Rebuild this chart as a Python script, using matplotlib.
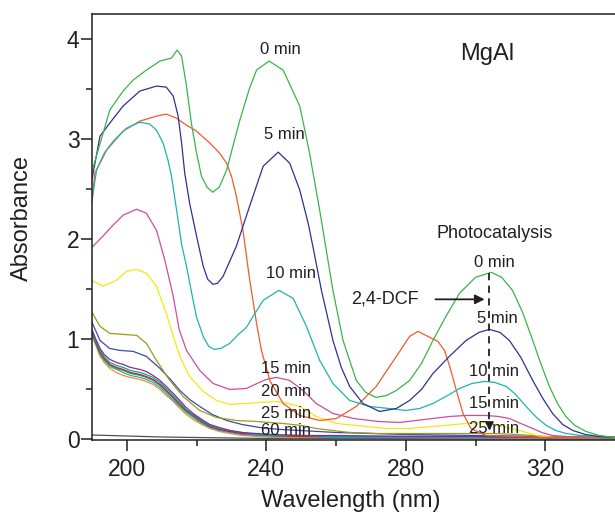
import matplotlib
matplotlib.use("Agg")
import matplotlib.pyplot as plt

plt.rcParams['font.family'] = ['Liberation Sans', 'DejaVu Sans']

# spectra: wavelength (nm) / absorbance
wl_0 = [190, 192.6, 195.1, 198.9, 201.8, 205.6, 209.5, 212.8, 214.4, 215.7, 217.1, 218.5, 220, 221.4, 223,
        224.6, 226.5, 228.6, 232.4, 235.2, 237.2, 240.8, 244.8, 249.6, 252.4, 255.3, 257.2, 259.1, 262, 265.8,
        268.5, 271.5, 274.5, 277.3, 281.1, 284.5, 287.8, 291.5, 295.4, 300, 304.5, 307.5, 310.6, 313.5, 316.4,
        318.8, 321.2, 323.5, 325.9, 328.5, 331.7, 335.5, 340]
abs_0 = [2.68, 2.99, 3.29, 3.48, 3.59, 3.69, 3.78, 3.81, 3.89, 3.83, 3.53, 3.16, 2.86, 2.63, 2.52,
         2.47, 2.52, 2.69, 3.19, 3.51, 3.69, 3.78, 3.69, 3.33, 2.86, 2.29, 1.89, 1.49, 0.99, 0.59,
         0.47, 0.42, 0.44, 0.49, 0.59, 0.76, 0.99, 1.23, 1.46, 1.62, 1.67, 1.62, 1.49, 1.27, 0.99,
         0.75, 0.53, 0.36, 0.23, 0.14, 0.08, 0.04, 0.02]

wl_5 = [190, 192.3, 195.1, 198.9, 203.7, 208.5, 211.3, 213.3, 214.7, 215.7, 216.6, 218, 220, 221.9, 223.2,
        224.7, 226, 227.6, 231.4, 235.2, 239.1, 243.4, 246.7, 249.6, 252, 253.4, 255.8, 259.1, 261.5, 263.9,
        267.7, 272.5, 277.3, 281.1, 284.5, 287.8, 292.5, 297.3, 301, 304, 307, 309.7, 313, 316.4, 319.3,
        322.1, 325, 327.9, 331.5, 335.5, 340]
abs_5 = [2.6, 3.03, 3.16, 3.33, 3.48, 3.53, 3.52, 3.43, 3.23, 2.96, 2.66, 2.36, 2.03, 1.73, 1.60,
         1.55, 1.56, 1.63, 1.93, 2.33, 2.73, 2.87, 2.76, 2.49, 2.16, 1.92, 1.49, 0.99, 0.72, 0.53,
         0.36, 0.28, 0.31, 0.39, 0.50, 0.66, 0.83, 0.99, 1.07, 1.10, 1.07, 0.99, 0.82, 0.59, 0.41,
         0.26, 0.15, 0.09, 0.05, 0.03, 0.02]

wl_10 = [190, 191.3, 193.5, 196.1, 199.9, 203.7, 206.6, 208.5, 210.4, 211.8, 212.8, 214.7, 215.7, 217.1, 219,
         220, 222, 223.5, 225, 227, 229.5, 232, 234.3, 236.2, 239.1, 243.6, 247.7, 251.5, 255.3, 259.1,
         263.9, 269.6, 275, 280, 284, 287.8, 291.5, 295.4, 299, 302.6, 305.5, 308.8, 311.5, 314.5, 317.5,
         320.3, 323, 326, 330, 335, 340]
abs_10 = [2.39, 2.69, 2.86, 2.98, 3.11, 3.17, 3.15, 3.09, 2.96, 2.79, 2.63, 2.19, 1.95, 1.73, 1.39,
          1.22, 1.02, 0.93, 0.90, 0.91, 0.96, 1.05, 1.12, 1.23, 1.39, 1.49, 1.41, 1.13, 0.79, 0.56,
          0.39, 0.33, 0.31, 0.29, 0.31, 0.36, 0.43, 0.51, 0.56, 0.58, 0.57, 0.53, 0.45, 0.33, 0.22,
          0.14, 0.09, 0.06, 0.04, 0.03, 0.02]

wl_ref = [190, 190.8, 194.2, 198.9, 203.7, 208.5, 211.3, 214.2, 217.1, 220, 223.8, 226.6, 228.6, 230, 231.4,
          233.3, 235.2, 237.2, 238.6, 241, 244.8, 249.6, 255.3, 260.1, 265.8, 271.5, 277.3, 281.1, 283.5,
          286.3, 289.2, 291.1, 292.6, 294.5, 296.4, 298.7, 303, 310, 320, 330, 340]
abs_ref = [2.38, 2.66, 2.89, 3.08, 3.18, 3.23, 3.25, 3.21, 3.14, 3.08, 2.96, 2.86, 2.76, 2.63, 2.43,
           2.09, 1.60, 1.16, 0.89, 0.59, 0.36, 0.24, 0.19, 0.21, 0.33, 0.53, 0.83, 1.03, 1.08,
           1.03, 0.98, 0.89, 0.73, 0.49, 0.26, 0.11, 0.04, 0.03, 0.02, 0.02, 0.02]

wl_15 = [190, 193.1, 196, 198.9, 202.8, 205.6, 208.5, 210.9, 213.3, 215, 217.1, 220.9, 224.7, 229.5, 234.3,
         238, 240, 242.9, 246.7, 250.5, 254.3, 259.1, 265, 272, 278.2, 283, 287.8, 292.5, 297.3, 303,
         306.5, 309.7, 313, 316.4, 319, 322.1, 326, 330, 340]
abs_15 = [1.92, 2.03, 2.14, 2.24, 2.30, 2.26, 2.09, 1.79, 1.43, 1.10, 0.89, 0.69, 0.56, 0.50, 0.51,
          0.57, 0.60, 0.62, 0.59, 0.49, 0.36, 0.26, 0.21, 0.18, 0.17, 0.19, 0.21, 0.23, 0.24, 0.24,
          0.23, 0.21, 0.16, 0.11, 0.07, 0.04, 0.03, 0.02, 0.02]

wl_20 = [190, 193.1, 197, 199.9, 202.8, 205.6, 208.5, 211.3, 213.3, 215.2, 218, 221.9, 225.7, 229.5, 234.3,
         238, 242.9, 246, 249.6, 254.3, 260.1, 268.7, 275, 281.1, 287.8, 297.3, 303, 307, 310, 313.6,
         316.5, 319, 323, 330, 340]
abs_20 = [1.59, 1.53, 1.59, 1.68, 1.70, 1.66, 1.53, 1.26, 1.03, 0.83, 0.63, 0.48, 0.39, 0.35, 0.36,
          0.37, 0.38, 0.36, 0.33, 0.23, 0.16, 0.13, 0.11, 0.11, 0.13, 0.16, 0.17, 0.14, 0.11, 0.08,
          0.05, 0.03, 0.02, 0.02, 0.02]

wl_25 = [190, 192.3, 195.1, 198.9, 202.8, 205.6, 208.5, 212.3, 216.1, 220.9, 225.7, 231.4, 237.2, 244.8,
         250, 254.3, 259, 263.9, 272, 281, 290, 300, 305, 312, 320, 330, 340]
abs_25 = [1.27, 1.13, 1.06, 1.05, 1.04, 0.96, 0.79, 0.59, 0.43, 0.29, 0.22, 0.19, 0.18, 0.16,
          0.14, 0.11, 0.09, 0.07, 0.06, 0.06, 0.06, 0.06, 0.06, 0.05, 0.03, 0.02, 0.02]

wl_30 = [190, 192.3, 195, 198, 201.8, 205.6, 209.5, 212.5, 215.2, 218, 220.9, 224.5, 228.6, 233, 238.1,
         244, 249.6, 260, 270, 280, 300, 320, 340]
abs_30 = [1.17, 0.99, 0.91, 0.89, 0.88, 0.83, 0.71, 0.60, 0.49, 0.40, 0.33, 0.25, 0.19, 0.15, 0.12,
          0.10, 0.09, 0.07, 0.06, 0.05, 0.04, 0.03, 0.02]

# later spectra, bunched together near the baseline
wl_late = [190, 191, 192.3, 193.5, 195.1, 197, 198.9, 201, 203.7, 205.5, 207.5, 209.5, 211.3, 213.3, 215.2,
           217, 219, 221.5, 223.8, 226.5, 229.5, 233, 237.2, 242, 250, 260, 280, 300, 320, 340]
abs_35 = [1.10, 1.01, 0.91, 0.85, 0.80, 0.77, 0.75, 0.72, 0.70, 0.68, 0.64, 0.59, 0.53, 0.46, 0.39,
          0.32, 0.26, 0.20, 0.15, 0.12, 0.09, 0.07, 0.06, 0.05, 0.04, 0.04, 0.03, 0.03, 0.02, 0.02]
abs_40 = [1.08, 0.99, 0.89, 0.83, 0.77, 0.74, 0.72, 0.69, 0.67, 0.65, 0.62, 0.57, 0.51, 0.44, 0.37,
          0.30, 0.25, 0.19, 0.14, 0.11, 0.09, 0.07, 0.05, 0.04, 0.04, 0.03, 0.03, 0.03, 0.02, 0.02]
abs_45 = [1.07, 0.98, 0.87, 0.81, 0.75, 0.72, 0.70, 0.67, 0.65, 0.63, 0.60, 0.55, 0.49, 0.42, 0.35,
          0.29, 0.24, 0.18, 0.13, 0.10, 0.08, 0.06, 0.05, 0.04, 0.03, 0.03, 0.03, 0.03, 0.02, 0.02]
abs_50 = [1.06, 0.97, 0.86, 0.80, 0.74, 0.71, 0.69, 0.66, 0.64, 0.62, 0.59, 0.54, 0.48, 0.41, 0.34,
          0.28, 0.23, 0.17, 0.13, 0.10, 0.08, 0.06, 0.05, 0.04, 0.03, 0.03, 0.03, 0.03, 0.02, 0.02]
abs_55 = [1.05, 0.96, 0.85, 0.79, 0.73, 0.70, 0.67, 0.64, 0.62, 0.60, 0.57, 0.52, 0.46, 0.39, 0.33,
          0.27, 0.22, 0.16, 0.12, 0.09, 0.07, 0.05, 0.04, 0.03, 0.03, 0.02, 0.02, 0.02, 0.02, 0.02]
abs_60 = [1.04, 0.95, 0.83, 0.77, 0.71, 0.67, 0.64, 0.62, 0.60, 0.58, 0.55, 0.50, 0.44, 0.38, 0.31,
          0.25, 0.20, 0.15, 0.11, 0.08, 0.06, 0.04, 0.03, 0.02, 0.02, 0.02, 0.02, 0.02, 0.02, 0.02]

wl_blank = [190, 200, 210, 220, 230, 240, 260, 300, 340]
abs_blank = [0.045, 0.035, 0.025, 0.02, 0.015, 0.01, 0.01, 0.006, 0.005]

txt = '#231f20'

fig = plt.figure(figsize=(6.15, 5.12), dpi=100)
ax = fig.add_axes([92/615, 1-440/512, (615-92)/615, (440-14)/512])

lw = 0.9
ax.plot(wl_blank, abs_blank, color='#505050', lw=lw)
ax.plot(wl_late, abs_60, color='#f7941d', lw=lw)
ax.plot(wl_late, abs_55, color='#27aae1', lw=lw)
ax.plot(wl_late, abs_50, color='#2bb24c', lw=lw)
ax.plot(wl_late, abs_45, color='#be1e2d', lw=lw)
ax.plot(wl_late, abs_40, color='#00a99d', lw=lw)
ax.plot(wl_late, abs_35, color='#92278f', lw=lw)
ax.plot(wl_30, abs_30, color='#3a4aa8', lw=lw)
ax.plot(wl_25, abs_25, color='#9e9a1c', lw=lw)
ax.plot(wl_20, abs_20, color='#f5e614', lw=lw)
ax.plot(wl_15, abs_15, color='#cc4c9e', lw=lw)
ax.plot(wl_ref, abs_ref, color='#f15a29', lw=lw)
ax.plot(wl_10, abs_10, color='#1cb5ac', lw=lw)
ax.plot(wl_5, abs_5, color='#2e3192', lw=lw)
ax.plot(wl_0, abs_0, color='#39b54a', lw=lw)

ax.set_xlim(190, 340)
ax.set_ylim(-0.005, 4.25)
ax.set_xticks([200, 240, 280, 320])
ax.set_xticks([220, 260, 300], minor=True)
ax.set_yticks([0, 1, 2, 3, 4])
ax.set_yticks([0.5, 1.5, 2.5, 3.5], minor=True)
ax.tick_params(which='major', direction='out', length=8, width=1.1, labelsize=16.5, colors=txt)
ax.tick_params(which='minor', direction='out', length=4.5, width=1.1, colors=txt)
ax.tick_params(axis='y', pad=1)
ax.tick_params(axis='x', pad=5)
ax.spines['right'].set_visible(False)
for s in ['left', 'bottom', 'top']:
    ax.spines[s].set_linewidth(1.1)
    ax.spines[s].set_color(txt)

ax.set_xlabel('Wavelength (nm)', fontsize=17, color=txt)
ax.set_ylabel('Absorbance', fontsize=17, color=txt)
ax.xaxis.set_label_coords(0.495, -0.117)
ax.yaxis.set_label_coords(-0.113, 0.52)

# labels on the 240 nm band
ax.text(238.1, 3.90, '0 min', fontsize=12, color=txt, va='center')
ax.text(239.2, 3.05, '5 min', fontsize=12, color=txt, va='center')
ax.text(240.0, 1.66, '10 min', fontsize=12, color=txt, va='center')
ax.text(238.4, 0.71, '15 min', fontsize=12, color=txt, va='center')
ax.text(238.4, 0.48, '20 min', fontsize=12, color=txt, va='center')
ax.text(238.4, 0.26, '25 min', fontsize=12, color=txt, va='center')
ax.text(238.4, 0.09, '60 min', fontsize=12, color=txt, va='center')

# labels on the 304 nm band
ax.text(303.2, 3.85, 'MgAl', fontsize=17, color=txt, ha='center', va='center')
ax.text(305.4, 2.06, 'Photocatalysis', fontsize=13, color=txt, ha='center', va='center')
ax.text(305.4, 1.77, '0 min', fontsize=12, color=txt, ha='center', va='center')
ax.text(306.2, 1.21, '5 min', fontsize=12, color=txt, ha='center', va='center')
ax.text(305.4, 0.68, '10 min', fontsize=12, color=txt, ha='center', va='center')
ax.text(305.4, 0.36, '15 min', fontsize=12, color=txt, ha='center', va='center')
ax.text(305.4, 0.11, '25 min', fontsize=12, color=txt, ha='center', va='center')
ax.text(274.1, 1.40, '2,4-DCF', fontsize=13, color=txt, ha='center', va='center')

ax.annotate('', xy=(303.4, 1.40), xytext=(287.7, 1.40),
            arrowprops=dict(arrowstyle='-|>', color=txt, lw=1.3, mutation_scale=14))
ax.plot([304, 304], [1.66, 0.14], color=txt, lw=1.3, dashes=(4, 3))
ax.annotate('', xy=(304, 0.06), xytext=(304, 0.18),
            arrowprops=dict(arrowstyle='-|>', color=txt, lw=1.3, mutation_scale=12))

fig.savefig('out.png', dpi=100)
